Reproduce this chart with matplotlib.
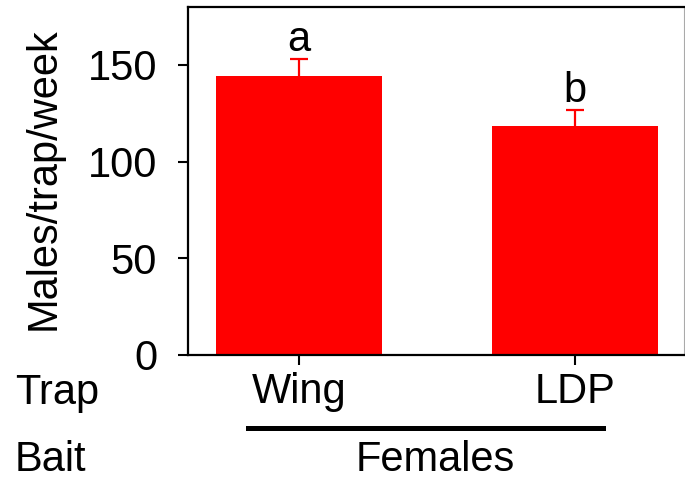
import matplotlib
matplotlib.use('Agg')
import matplotlib.pyplot as plt
from matplotlib.lines import Line2D

# data
traps = ['Wing', 'LDP']
means = [144.5, 118.5]
errors = [8.5, 8.2]
letters = ['a', 'b']
bait = 'Females'

plt.rcParams['font.family'] = ['Liberation Sans', 'DejaVu Sans']

fig = plt.figure(figsize=(6.85, 4.8), dpi=100)
ax = fig.add_axes([188 / 685, 1 - 355 / 480, 496 / 685, 348 / 480])

x = list(range(len(traps)))
ax.bar(x, means, width=0.6, color='#ff0000', edgecolor='none', zorder=2)
eb = ax.errorbar(x, means, yerr=[[0] * len(errors), errors], fmt='none',
                 ecolor='#ff0000', elinewidth=1.6, capsize=6.5, capthick=1.6, zorder=3)
# only the upper cap is shown
eb[1][0].set_visible(False)

for xi, m, e, lab in zip(x, means, errors, letters):
    ax.text(xi, m + e + 4, lab, ha='center', va='baseline', fontsize=30)

ax.set_xlim(-0.402, 1.395)
ax.set_ylim(0, 180)
ax.set_yticks([0, 50, 100, 150])
ax.set_xticks(x)
ax.set_xticklabels(traps)
ax.tick_params(axis='y', labelsize=30, length=7.2, width=1.5, pad=15)
ax.tick_params(axis='x', labelsize=30, length=7.2, width=1.5, pad=5)

for side in ['left', 'bottom', 'top']:
    ax.spines[side].set_linewidth(1.6)
    ax.spines[side].set_color('black')
ax.spines['right'].set_linewidth(0.8)
ax.spines['right'].set_color('#aaaaaa')

fig.text(44 / 685, 1 - 179 / 480, 'Males/trap/week', rotation=90,
         ha='center', va='center', fontsize=30)

fig.text(15 / 685, 1 - 404 / 480, 'Trap', ha='left', va='baseline', fontsize=30)
fig.text(15 / 685, 1 - 471 / 480, 'Bait', ha='left', va='baseline', fontsize=30)
fig.text(435 / 685, 1 - 471 / 480, bait, ha='center', va='baseline', fontsize=30)

fig.add_artist(Line2D([248 / 685, 603 / 685], [1 - 428 / 480, 1 - 428 / 480],
                      transform=fig.transFigure, color='black', linewidth=3.6))

fig.savefig('out.png', dpi=100)
